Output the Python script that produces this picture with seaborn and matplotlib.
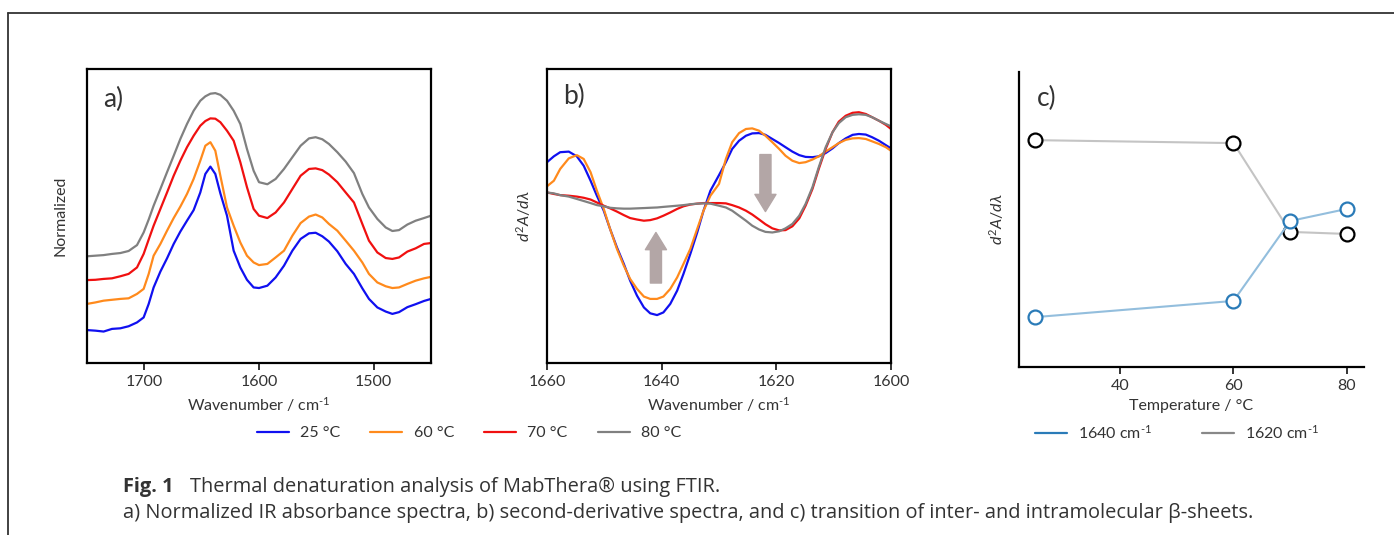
import matplotlib
matplotlib.use("Agg")
import pandas as pd
import matplotlib.pyplot as plt
from matplotlib.lines import Line2D
import seaborn as sns

# ==========================================
# DATA
# ==========================================

temps = ["25 °C", "60 °C", "70 °C", "80 °C"]
temp_colors = ["#1010f0", "#ff8a1c", "#f01010", "#808080"]

# panel a - normalized absorbance spectra
a_wn = [1750.0, 1742.7, 1735.5, 1728.2, 1720.9, 1713.7, 1706.4, 1700.6, 1696.2, 1691.9,
        1686.0, 1680.2, 1674.4, 1668.6, 1662.8, 1657.0, 1651.2, 1646.8, 1642.4, 1638.1,
        1633.7, 1627.9, 1622.1, 1616.3, 1610.5, 1604.7,
        1600.0, 1592.7, 1585.5, 1578.2, 1570.9, 1563.7, 1556.4, 1550.6, 1544.8, 1539.0,
        1531.7, 1524.4, 1517.2, 1509.9, 1504.1, 1496.8, 1489.5, 1483.7, 1477.9, 1470.6,
        1463.4, 1456.1, 1450.0]
a_25 = [0.112, 0.110, 0.107, 0.116, 0.118, 0.125, 0.138, 0.155, 0.201, 0.257,
        0.311, 0.356, 0.405, 0.447, 0.484, 0.520, 0.580, 0.643, 0.668, 0.643,
        0.577, 0.501, 0.382, 0.325, 0.283, 0.257,
        0.255, 0.263, 0.291, 0.331, 0.382, 0.422, 0.441, 0.443, 0.431, 0.413,
        0.380, 0.337, 0.303, 0.254, 0.218, 0.189, 0.175, 0.167, 0.173, 0.190,
        0.200, 0.211, 0.218]
a_60 = [0.201, 0.206, 0.212, 0.215, 0.218, 0.220, 0.235, 0.252, 0.303, 0.365,
        0.405, 0.450, 0.493, 0.532, 0.575, 0.626, 0.688, 0.739, 0.751, 0.722,
        0.637, 0.529, 0.467, 0.410, 0.365, 0.342,
        0.333, 0.337, 0.359, 0.382, 0.433, 0.476, 0.498, 0.505, 0.495, 0.473,
        0.450, 0.416, 0.382, 0.342, 0.303, 0.274, 0.261, 0.255, 0.257, 0.269,
        0.280, 0.288, 0.293]
a_70 = [0.282, 0.283, 0.286, 0.288, 0.295, 0.303, 0.325, 0.371, 0.420, 0.467,
        0.524, 0.580, 0.637, 0.688, 0.734, 0.773, 0.807, 0.823, 0.832, 0.831,
        0.819, 0.790, 0.756, 0.683, 0.598, 0.524,
        0.501, 0.493, 0.512, 0.546, 0.592, 0.637, 0.660, 0.662, 0.656, 0.641,
        0.615, 0.580, 0.546, 0.473, 0.416, 0.376, 0.357, 0.354, 0.359, 0.379,
        0.390, 0.405, 0.408]
a_80 = [0.363, 0.365, 0.367, 0.371, 0.374, 0.381, 0.401, 0.444, 0.488, 0.535,
        0.592, 0.649, 0.705, 0.762, 0.813, 0.858, 0.892, 0.907, 0.916, 0.918,
        0.912, 0.892, 0.858, 0.813, 0.728, 0.654,
        0.615, 0.608, 0.626, 0.660, 0.700, 0.739, 0.764, 0.768, 0.761, 0.745,
        0.717, 0.685, 0.646, 0.575, 0.529, 0.490, 0.461, 0.449, 0.452, 0.471,
        0.484, 0.493, 0.501]

# panel b - second derivative spectra
b_wn = [1660.0, 1658.8, 1657.7, 1656.2, 1654.8, 1653.6, 1652.4, 1651.3, 1650.1, 1649.0,
        1647.8, 1646.6, 1645.5, 1644.3, 1643.1, 1642.0, 1640.8, 1639.7, 1638.5, 1637.3,
        1636.2, 1635.0, 1633.8, 1632.7, 1631.5, 1630.0,
        1628.8, 1627.7, 1626.5, 1625.3, 1624.2, 1623.0, 1621.9, 1620.7, 1619.5, 1618.4,
        1617.2, 1616.0, 1614.9, 1613.7, 1612.6, 1611.4, 1610.2, 1609.1, 1607.9, 1606.7,
        1605.6, 1604.4, 1603.3, 1602.1, 1600.9, 1600.0]
b_25 = [0.683, 0.703, 0.717, 0.719, 0.703, 0.671, 0.620, 0.569, 0.518, 0.456,
        0.393, 0.337, 0.280, 0.229, 0.189, 0.169, 0.163, 0.172, 0.201, 0.246,
        0.303, 0.371, 0.444, 0.518, 0.586, 0.639,
        0.683, 0.728, 0.756, 0.773, 0.781, 0.782, 0.776, 0.762, 0.748, 0.734,
        0.719, 0.707, 0.701, 0.700, 0.703, 0.714, 0.730, 0.748, 0.764, 0.776,
        0.779, 0.777, 0.768, 0.756, 0.741, 0.730]
b_60 = [0.601, 0.620, 0.660, 0.696, 0.707, 0.694, 0.649, 0.586, 0.524, 0.456,
        0.388, 0.331, 0.286, 0.252, 0.226, 0.218, 0.218, 0.226, 0.252, 0.291,
        0.337, 0.388, 0.456, 0.518, 0.569, 0.609,
        0.694, 0.751, 0.782, 0.796, 0.798, 0.790, 0.773, 0.751, 0.728, 0.705,
        0.688, 0.680, 0.683, 0.692, 0.703, 0.719, 0.734, 0.748, 0.759, 0.764,
        0.765, 0.762, 0.754, 0.745, 0.734, 0.722]
b_70 = [0.580, 0.575, 0.571, 0.569, 0.566, 0.562, 0.556, 0.546, 0.535, 0.526,
        0.515, 0.503, 0.493, 0.488, 0.484, 0.486, 0.492, 0.501, 0.512, 0.524,
        0.533, 0.539, 0.542, 0.544, 0.544, 0.544,
        0.543, 0.537, 0.529, 0.518, 0.505, 0.488, 0.472, 0.458, 0.451, 0.452,
        0.465, 0.492, 0.535, 0.592, 0.660, 0.728, 0.785, 0.821, 0.841, 0.851,
        0.853, 0.847, 0.836, 0.824, 0.810, 0.796]
b_80 = [0.580, 0.577, 0.571, 0.566, 0.558, 0.551, 0.544, 0.537, 0.533, 0.528,
        0.526, 0.525, 0.525, 0.526, 0.527, 0.528, 0.529, 0.531, 0.533, 0.535,
        0.537, 0.540, 0.542, 0.543, 0.542, 0.535,
        0.529, 0.518, 0.501, 0.484, 0.467, 0.454, 0.446, 0.444, 0.448, 0.458,
        0.473, 0.501, 0.541, 0.598, 0.666, 0.734, 0.785, 0.816, 0.836, 0.844,
        0.846, 0.844, 0.836, 0.824, 0.813, 0.805]

# arrows in panel b: (wavenumber, tail value, tip value)
arrow_up = (1641.0, 0.272, 0.444)
arrow_down = (1621.9, 0.709, 0.515)

# panel c - band intensity vs temperature
c_temp = [25, 60, 70, 80]
c_1640 = [0.169, 0.224, 0.495, 0.536]
c_1620 = [0.769, 0.759, 0.458, 0.451]

# ==========================================
# STYLE
# ==========================================

sns.set_style("white")
plt.rcParams['font.family'] = ['Lato', 'DejaVu Sans']
plt.rcParams['mathtext.fontset'] = 'custom'
plt.rcParams['mathtext.rm'] = 'Lato'
plt.rcParams['mathtext.it'] = 'Lato:italic'
plt.rcParams['text.color'] = '#333333'
plt.rcParams['axes.labelcolor'] = '#333333'
plt.rcParams['xtick.color'] = '#333333'

fig = plt.figure(figsize=(13.94, 5.35), dpi=100)
W, H = 1394, 535
CM = r"cm$^{\text{-1}}$"


def px_axes(left, top, right, bottom):
    return fig.add_axes([left / W, 1 - bottom / H, (right - left) / W, (bottom - top) / H])


def long_frame(wn, series):
    rows = []
    for name, vals in zip(temps, series):
        for x, y in zip(wn, vals):
            rows.append({"wn": x, "val": y, "temp": name})
    return pd.DataFrame(rows)


def style_box(ax):
    for s in ax.spines.values():
        s.set_color("black")
        s.set_linewidth(1.6)
    ax.tick_params(axis="x", direction="out", length=5, width=1.4, labelsize=11.5,
                   pad=4, bottom=True)
    ax.set_yticks([])


palette = dict(zip(temps, temp_colors))

# ==========================================
# PANEL A
# ==========================================

ax_a = px_axes(87, 69, 431, 363)
sns.lineplot(data=long_frame(a_wn, [a_25, a_60, a_70, a_80]), x="wn", y="val",
             hue="temp", palette=palette, linewidth=1.6, legend=False,
             solid_joinstyle="round", ax=ax_a)
ax_a.set_xlim(1750, 1450)
ax_a.set_ylim(0, 1)
ax_a.set_xticks([1700, 1600, 1500])
ax_a.set_xlabel("Wavenumber / " + CM, fontsize=11.5, labelpad=4)
ax_a.set_ylabel("Normalized", fontsize=11.5, labelpad=14)
style_box(ax_a)
ax_a.text(0.047, 0.895, "a)", transform=ax_a.transAxes, fontsize=19, va="center")

# ==========================================
# PANEL B
# ==========================================

ax_b = px_axes(547, 69, 891, 363)
sns.lineplot(data=long_frame(b_wn, [b_25, b_60, b_70, b_80]), x="wn", y="val",
             hue="temp", palette=palette, linewidth=1.6, legend=False,
             solid_joinstyle="round", ax=ax_b)
ax_b.set_xlim(1660, 1600)
ax_b.set_ylim(0, 1)
ax_b.set_xticks([1660, 1640, 1620, 1600])
ax_b.set_xlabel("Wavenumber / " + CM, fontsize=11.5, labelpad=4)
ax_b.set_ylabel(r"$d^2A/d\lambda$", fontsize=11.5, labelpad=10)
style_box(ax_b)
ax_b.text(0.047, 0.905, "b)", transform=ax_b.transAxes, fontsize=19, va="center")

arrow_style = "simple,tail_width=1.0,head_width=1.9,head_length=1.55"
for wn, y0, y1 in [arrow_up, arrow_down]:
    ax_b.annotate("", xy=(wn, y1), xytext=(wn, y0),
                  arrowprops=dict(arrowstyle=arrow_style, mutation_scale=8,
                                  color="#b3a6a6", shrinkA=0, shrinkB=0))

# ==========================================
# PANEL C
# ==========================================

ax_c = px_axes(1019, 72, 1364, 367)
sns.lineplot(x=c_temp, y=c_1620, color="#c4c4c4", linewidth=1.5, marker="o",
             markersize=10, markerfacecolor="white", markeredgecolor="black",
             markeredgewidth=1.6, ax=ax_c)
sns.lineplot(x=c_temp, y=c_1640, color="#93bedd", linewidth=1.5, marker="o",
             markersize=10, markerfacecolor="white", markeredgecolor="#2a7bb8",
             markeredgewidth=1.6, ax=ax_c)
ax_c.set_xlim(22.2, 83)
ax_c.set_ylim(0, 1)
ax_c.set_xticks([40, 60, 80])
ax_c.set_yticks([])
ax_c.set_xlabel("Temperature / °C", fontsize=11.5, labelpad=4)
ax_c.set_ylabel(r"$d^2A/d\lambda$", fontsize=11.5, labelpad=9)
sns.despine(ax=ax_c)
for s in ["left", "bottom"]:
    ax_c.spines[s].set_color("black")
    ax_c.spines[s].set_linewidth(1.6)
ax_c.tick_params(axis="x", direction="out", length=5, width=1.4, labelsize=11.5,
                 pad=4, bottom=True)
ax_c.text(0.052, 0.91, "c)", transform=ax_c.transAxes, fontsize=19, va="center")

# ==========================================
# LEGENDS
# ==========================================

temp_handles = [Line2D([], [], color=c, lw=1.6) for c in temp_colors]
fig.legend(temp_handles, temps, loc="center", bbox_to_anchor=(469 / W, 1 - 433 / H),
           ncol=4, frameon=False, fontsize=11.5, handlelength=2.0, handletextpad=0.7,
           columnspacing=1.9)

band_handles = [Line2D([], [], color="#2a7bb8", lw=1.6), Line2D([], [], color="#888888", lw=1.6)]
fig.legend(band_handles, ["1640 " + CM, "1620 " + CM], loc="center",
           bbox_to_anchor=(1177 / W, 1 - 433 / H), ncol=2, frameon=False,
           fontsize=11.5, handlelength=2.0, handletextpad=0.7, columnspacing=3.1)

# ==========================================
# FRAME + CAPTION
# ==========================================

fig.add_artist(Line2D([8 / W, 8 / W], [0, 1 - 13 / H], transform=fig.transFigure,
                      color="#333333", lw=1.3))
fig.add_artist(Line2D([8 / W, 1], [1 - 13 / H, 1 - 13 / H], transform=fig.transFigure,
                      color="#333333", lw=1.3))

cap_font = ['Open Sans', 'DejaVu Sans']
fig.text(123 / W, 1 - 487 / H, "Fig. 1", fontsize=14.4, weight="bold", va="center",
         family=cap_font)
fig.text(190 / W, 1 - 487 / H, "Thermal denaturation analysis of MabThera® using FTIR.",
         fontsize=14.4, va="center", family=cap_font)
fig.text(123 / W, 1 - 513 / H,
         "a) Normalized IR absorbance spectra, b) second-derivative spectra, "
         "and c) transition of inter- and intramolecular β-sheets.",
         fontsize=14.4, va="center", family=cap_font)

fig.savefig("out.png", dpi=100)
